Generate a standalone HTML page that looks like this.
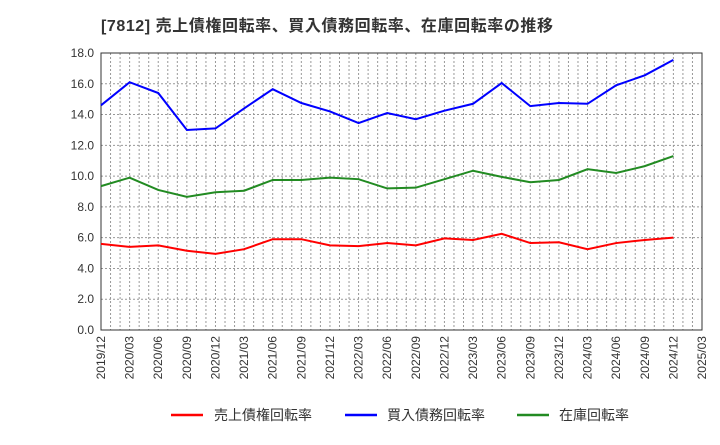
<!DOCTYPE html>
<html><head><meta charset="utf-8">
<style>
body{margin:0;background:#fff;font-family:"Liberation Sans","Noto Sans CJK JP",sans-serif;}
svg text{font-family:"Liberation Sans","Noto Sans CJK JP",sans-serif;}
</style></head>
<body>
<svg id="chart" width="720" height="440" xmlns="http://www.w3.org/2000/svg">
<text x="101" y="31" font-size="16" font-weight="bold" fill="#333" textLength="452" lengthAdjust="spacing">[7812]  売上債権回転率、買入債務回転率、在庫回転率の推移</text>
<g id="grid"></g><g id="axes"></g><g id="series"></g>
<g>
<line x1="171" y1="415" x2="203" y2="415" stroke="#ff0000" stroke-width="2.5"/>
<text x="214" y="420" font-size="14" fill="#333">売上債権回転率</text>
<line x1="345" y1="415" x2="377" y2="415" stroke="#0000ff" stroke-width="2.5"/>
<text x="387" y="420" font-size="14" fill="#333">買入債務回転率</text>
<line x1="517" y1="415" x2="549" y2="415" stroke="#228b22" stroke-width="2.5"/>
<text x="559" y="420" font-size="14" fill="#333">在庫回転率</text>
</g>
</svg>
<script>
const categories=["2019/12","2020/03","2020/06","2020/09","2020/12","2021/03","2021/06","2021/09","2021/12","2022/03","2022/06","2022/09","2022/12","2023/03","2023/06","2023/09","2023/12","2024/03","2024/06","2024/09","2024/12","2025/03"];
const receivables=[5.6,5.4,5.5,5.15,4.95,5.25,5.9,5.9,5.5,5.45,5.65,5.5,5.95,5.85,6.25,5.65,5.7,5.25,5.65,5.85,6.0];
const payables=[14.6,16.1,15.4,13.0,13.1,14.4,15.65,14.75,14.2,13.45,14.1,13.7,14.25,14.7,16.05,14.55,14.75,14.7,15.9,16.55,17.55];
const inventory=[9.35,9.9,9.1,8.65,8.95,9.05,9.75,9.75,9.9,9.8,9.2,9.25,9.8,10.35,9.95,9.6,9.75,10.45,10.2,10.65,11.3];
const yTicks=[0,2,4,6,8,10,12,14,16,18];
const L=101,R=702,T=53,B=330,YMAX=18;
const NS="http://www.w3.org/2000/svg";
const step=(R-L)/(categories.length-1);
const x=i=>L+i*step;
const y=v=>B-(v/YMAX)*(B-T);
function mk(tag,attrs,parent){const e=document.createElementNS(NS,tag);for(const k in attrs)e.setAttribute(k,attrs[k]);parent.appendChild(e);return e;}
const grid=document.getElementById('grid'),axes=document.getElementById('axes'),ser=document.getElementById('series');
for(let m=1;m<(categories.length-1)*3;m++){
 const gx=L+m*step/3;
 const l=mk('line',{x1:gx,y1:T,x2:gx,y2:B,stroke:'#999','stroke-dasharray':'2,2','stroke-width':1},grid);
 
 
}
yTicks.forEach(t=>{
 if(t>0&&t<YMAX){const l=mk('line',{x1:L,y1:y(t),x2:R,y2:y(t),stroke:'#999','stroke-dasharray':'2,2','stroke-width':1},grid);
 
 }
 const tx=mk('text',{x:L-7,y:y(t)+4,'text-anchor':'end','font-size':12,fill:'#333'},axes);
 tx.textContent=t.toFixed(1);
 
 
});
categories.forEach((c,i)=>{
 const tx=mk('text',{transform:`translate(${x(i)+4},${B+6}) rotate(-90)`,'text-anchor':'end','font-size':12,fill:'#333'},axes);
 tx.textContent=c;
 
 
});
const fr=mk('rect',{x:L,y:T,width:R-L,height:B-T,fill:'none',stroke:'#333','stroke-width':1},axes);


[[receivables,'#ff0000','receivables-line'],[payables,'#0000ff','payables-line'],[inventory,'#228b22','inventory-line']].forEach(([d,col,n])=>{
 const p=mk('polyline',{points:d.map((v,i)=>x(i)+','+y(v)).join(' '),fill:'none',stroke:col,'stroke-width':2},ser);
 
 
});
</script>
</body></html>
